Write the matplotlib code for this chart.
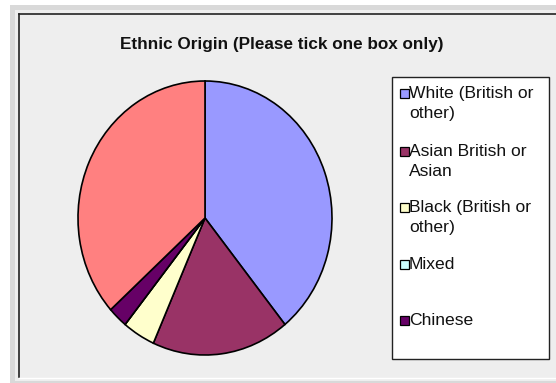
import matplotlib.pyplot as plt
from matplotlib.patches import Rectangle
from matplotlib.lines import Line2D

plt.rcParams['font.family'] = ['Liberation Sans', 'DejaVu Sans']

# responses per category (last one is not listed in the key)
categories = ['White (British or\nother)', 'Asian British or\nAsian', 'Black (British or\nother)',
              'Mixed', 'Chinese', 'Other']
counts = [47, 21, 5, 0, 3, 44]
colors = ['#9999FF', '#993366', '#FFFFCC', '#CCFFFF', '#660066', '#FF8080']
n_key = 5

W, H = 556, 383
fig = plt.figure(figsize=(W / 100, H / 100), dpi=100)
fig.patch.set_facecolor('white')

def px(x, y, w, h):
    # pixel box (top-left origin) -> figure fraction
    return [x / W, 1 - (y + h) / H, w / W, h / H]

# frame around the chart area
fig.patches.append(Rectangle((10 / W, 0), 1, (H - 5) / H, transform=fig.transFigure,
                             facecolor='#D9D9D9', edgecolor='none', zorder=0))
fig.patches.append(Rectangle((15 / W, 2 / H), 1, (H - 12) / H, transform=fig.transFigure,
                             facecolor='#EEEEEE', edgecolor='none', zorder=0))
fig.lines.append(Line2D([19 / W, 19 / W], [1 - 377 / H, 1 - 14 / H], transform=fig.transFigure,
                        color='#222222', lw=1.2))
fig.lines.append(Line2D([19 / W, 1], [1 - 14 / H, 1 - 14 / H], transform=fig.transFigure,
                        color='#222222', lw=1.2))
fig.lines.append(Line2D([19 / W, 1], [1 - 378 / H, 1 - 378 / H], transform=fig.transFigure,
                        color='#FFFFFF', lw=1.0))

fig.text(282 / W, 1 - 45 / H, 'Ethnic Origin (Please tick one box only)', ha='center', va='center',
         fontsize=12.3, fontweight='bold', color='#111111')

# pie (slightly taller than wide)
ax = fig.add_axes(px(78, 81, 254, 274))
ax.set_zorder(5)
ax.pie(counts, colors=colors, startangle=90, counterclock=False,
       wedgeprops=dict(edgecolor='black', linewidth=1.2))
ax.set_aspect('auto')
ax.set_xlim(-1, 1)
ax.set_ylim(-1, 1)
ax.axis('off')

# key box
fig.patches.append(Rectangle((392 / W, 1 - 359 / H), 157 / W, 282 / H, transform=fig.transFigure,
                             facecolor='white', edgecolor='#222222', lw=1.0, zorder=1))
key_y = [93, 151, 207, 264, 320]
for i in range(n_key):
    y = key_y[i]
    fig.patches.append(Rectangle((400 / W, 1 - (y + 4.5) / H), 8.5 / W, 9 / H, transform=fig.transFigure,
                                 facecolor=colors[i], edgecolor='black', lw=0.9, zorder=2))
    fig.text(409 / W, 1 - (y - 7) / H, categories[i], ha='left', va='top', fontsize=12.6,
             linespacing=1.38, color='#111111', zorder=3)

fig.savefig('out.png', dpi=100, facecolor=fig.get_facecolor())
